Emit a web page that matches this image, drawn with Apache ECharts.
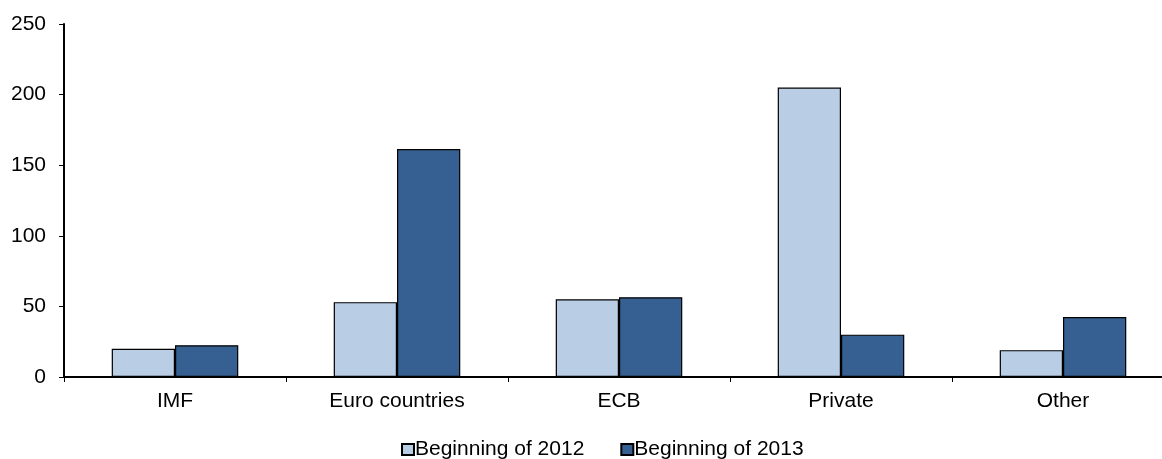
<!DOCTYPE html>
<html>
<head>
<meta charset="utf-8">
<script src="https://cdn.jsdelivr.net/npm/echarts@6/dist/echarts.min.js"></script>
<style>
html,body{margin:0;padding:0;background:#fff;}
#chart{width:1162px;height:459px;}
</style>
</head>
<body>
<div id="chart"></div>
<script>
const categories = ['IMF', 'Euro countries', 'ECB', 'Private', 'Other'];
const seriesNames = ['Beginning of 2012', 'Beginning of 2013'];
const values2012 = [20, 53, 55, 205, 19];
const values2013 = [22.5, 161.5, 56.5, 30, 42.5];
const yTicks = { min: 0, max: 250, interval: 50 };

const font = 'Liberation Sans, Arial, sans-serif';
const chart = echarts.init(document.getElementById('chart'));
chart.setOption({
  animation: false,
  backgroundColor: '#ffffff',
  grid: { left: 64, top: 24, bottom: 82, right: -12, outerBoundsMode: 'none', containLabel: false },
  legend: {
    data: seriesNames,
    top: 434,
    left: 396,
    icon: 'rect',
    itemWidth: 12,
    itemHeight: 11,
    itemGap: 36,
    textStyle: { fontFamily: font, fontSize: 21, color: '#000', padding: [0, 0, 0, -4] }
  },
  xAxis: {
    type: 'category',
    data: categories,
    axisLine: { lineStyle: { color: '#000', width: 2 } },
    axisTick: { show: true, length: 5, lineStyle: { color: '#000', width: 1 } },
    axisLabel: { fontFamily: font, fontSize: 21, color: '#000', margin: 14 },
    splitLine: { show: false }
  },
  yAxis: {
    type: 'value',
    min: yTicks.min,
    max: yTicks.max,
    interval: yTicks.interval,
    axisLine: { show: true, lineStyle: { color: '#000', width: 2 } },
    axisTick: { show: true, length: 5, lineStyle: { color: '#000', width: 1 } },
    axisLabel: { fontFamily: font, fontSize: 21, color: '#000', margin: 18 },
    splitLine: { show: false }
  },
  series: [
    {
      name: seriesNames[0],
      type: 'bar',
      data: values2012,
      barGap: '0%',
      barCategoryGap: '43%',
      itemStyle: { color: '#B9CDE5', borderColor: '#000', borderWidth: 1.2 }
    },
    {
      name: seriesNames[1],
      type: 'bar',
      data: values2013,
      barGap: '0%',
      barCategoryGap: '43%',
      itemStyle: { color: '#356091', borderColor: '#000', borderWidth: 1.2 }
    }
  ]
});
</script>
</body>
</html>
